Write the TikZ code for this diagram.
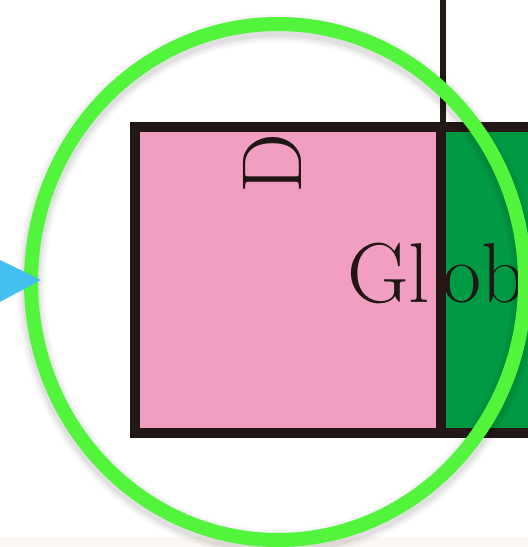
\documentclass[tikz,border=0pt]{standalone}
\definecolor{pinkfill}{HTML}{F19EC2}
\definecolor{greenfill}{HTML}{009A44}
\definecolor{limering}{HTML}{52F53C}
\definecolor{bluetri}{HTML}{43BFF0}
\definecolor{darkline}{HTML}{231815}
\definecolor{peach}{HTML}{FDF7F3}
\tikzset{
  boxline/.style={draw=darkline, line width=10pt},
  ring/.style={draw=limering, line width=14pt},
  bigtext/.style={inner sep=0pt, font=\fontsize{85}{100}\selectfont, text=darkline!90!black}
}
\begin{document}
\begin{tikzpicture}[x=1pt,y=-1pt]
\useasboundingbox (0,0) rectangle (528,547);
\fill[white] (0,0) rectangle (528,547);
\fill[peach] (0,537) rectangle (528,547);
% boxes
\fill[pinkfill] (134.5,127) rectangle (441,433);
\fill[greenfill] (441,127) rectangle (560,433);
% texts
\node[bigtext, rotate=90] (d) at (272,163) {D};
\node[bigtext, anchor=base west] (global) at (347,302) {Gl\kern12pt obal};
% borders
\draw[boxline] (560,127) -- (134.5,127) -- (134.5,433) -- (560,433);
\draw[boxline] (441,127) -- (441,433);
\draw[draw=darkline, line width=6pt] (443,-5) -- (443,127);
% ring shadow
\foreach \w/\o in {28/0.03,23/0.04,18/0.05} {
  \draw[black, opacity=\o, line width=\w pt] (278,286) ellipse [x radius=247, y radius=258];
}
% ring
\draw[ring] (278,282) ellipse [x radius=247, y radius=258];
% blue triangle
\fill[bluetri] (-5,257.5) -- (41,280) -- (-5,304.5) -- cycle;
\end{tikzpicture}
\end{document}
